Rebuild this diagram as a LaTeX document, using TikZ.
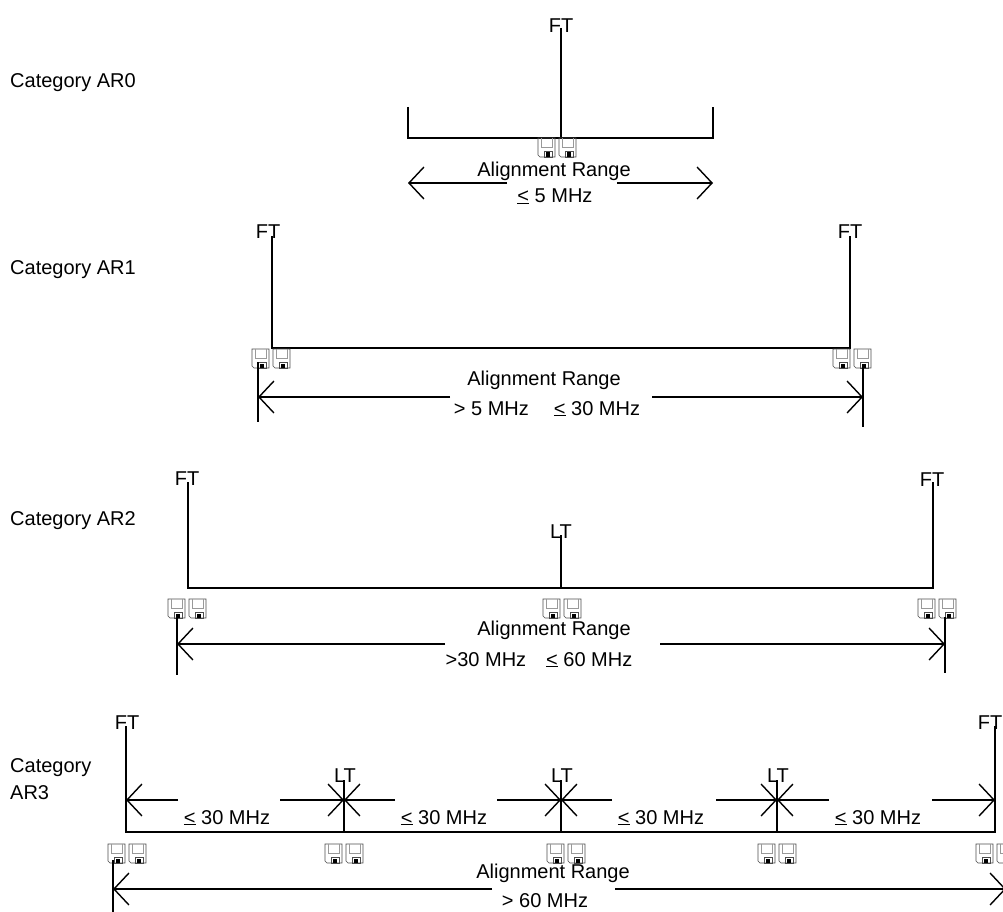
\documentclass[tikz,border=0pt]{standalone}
\usepackage{fontspec}
\setmainfont{Liberation Sans}
\usetikzlibrary{arrows.meta}
\newcommand\uleq{{\setbox0\hbox{<}\rlap{\rule[-1pt]{\wd0}{1.3pt}}\box0}}
\tikzset{
  floppy/.pic={
    \draw[line width=0.6pt, black!70] (0,0) -- (17,0) -- (17,19) -- (2,19) -- (0,17) -- cycle;
    \draw[line width=0.6pt, black!40] (3,0) -- (3,9) -- (14,9) -- (14,0);
    \draw[line width=0.6pt, black!70] (6,13) rectangle (14,19);
    \fill (8,14.5) rectangle (12,19);
  },
  floppypair/.pic={\pic at (0,0) {floppy}; \pic at (21,0) {floppy};}
}
\begin{document}
\begin{tikzpicture}[x=1pt,y=-1pt,
  font=\fontsize{20}{24}\selectfont,
  every node/.style={inner sep=0pt},
  lbl/.style={anchor=base},
  cat/.style={anchor=base west},
  ln/.style={line width=1.4pt},
  dimtip/.style={line width=1.4pt,-{Straight Barb[length=15pt,width=32pt]}}]
\useasboundingbox (0,0) rectangle (1003,912);

% ---------------- AR0
\node[cat] (c0) at (10,88) {Category AR0};
\node[lbl] (ft0) at (561,33) {FT};
\coordinate (ft0top) at (561,28);
\coordinate (t0l) at (408,107); \coordinate (h0l) at (408,138);
\coordinate (h0m) at (561,138);
\coordinate (h0r) at (713,138); \coordinate (t0r) at (713,107);
\draw[ln] (t0l) -- (h0l) -- (h0r) -- (t0r);
\draw[ln] (ft0top) -- (h0m);
\pic at (538,138) {floppypair};
\node[lbl] (ar0) at (554,177) {Alignment Range};
\node[lbl] (v0) at (555,203) {\uleq\ 5 MHz};
\coordinate (a0l) at (408,183); \coordinate (a0ls) at (507,183);
\coordinate (a0rs) at (617,183); \coordinate (a0r) at (713,183);
\draw[dimtip] (a0ls) -- (a0l);
\draw[dimtip] (a0rs) -- (a0r);

% ---------------- AR1
\node[cat] (c1) at (10,274) {Category AR1};
\node[lbl] (ft1a) at (268,238) {FT};
\node[lbl] (ft1b) at (850,238) {FT};
\coordinate (v1a) at (272,236); \coordinate (h1a) at (272,348);
\coordinate (h1b) at (850,348); \coordinate (v1b) at (850,236);
\draw[ln] (v1a) -- (h1a) -- (h1b) -- (v1b);
\pic at (252,349) {floppypair};
\pic at (833,349) {floppypair};
\coordinate (k1at) at (258,362); \coordinate (k1ab) at (258,422);
\coordinate (k1bt) at (863,366); \coordinate (k1bb) at (863,427);
\draw[ln] (k1at) -- (k1ab);
\draw[ln] (k1bt) -- (k1bb);
\coordinate (a1l) at (258,397); \coordinate (a1ls) at (450,397);
\coordinate (a1rs) at (652,397); \coordinate (a1r) at (863,397);
\draw[dimtip] (a1ls) -- (a1l);
\draw[dimtip] (a1rs) -- (a1r);
\node[lbl] (ar1) at (544,385) {Alignment Range};
\node[lbl] (v1) at (547,415) {> 5 MHz\hspace{25pt}\uleq\ 30 MHz};

% ---------------- AR2
\node[cat] (c2) at (10,525) {Category AR2};
\node[lbl] (ft2a) at (187,485) {FT};
\node[lbl] (ft2b) at (932,486) {FT};
\node[lbl] (lt2) at (561,538) {LT};
\coordinate (v2a) at (188,482); \coordinate (h2a) at (188,588);
\coordinate (h2b) at (933,588); \coordinate (v2b) at (933,482);
\coordinate (l2t) at (561,535); \coordinate (l2b) at (561,588);
\draw[ln] (v2a) -- (h2a) -- (h2b) -- (v2b);
\draw[ln] (l2t) -- (l2b);
\pic at (168,599) {floppypair};
\pic at (543,599) {floppypair};
\pic at (918,599) {floppypair};
\coordinate (k2at) at (177,617); \coordinate (k2ab) at (177,675);
\coordinate (k2bt) at (945,617); \coordinate (k2bb) at (945,673);
\draw[ln] (k2at) -- (k2ab);
\draw[ln] (k2bt) -- (k2bb);
\coordinate (a2l) at (177,644); \coordinate (a2ls) at (445,644);
\coordinate (a2rs) at (660,644); \coordinate (a2r) at (945,644);
\draw[dimtip] (a2ls) -- (a2l);
\draw[dimtip] (a2rs) -- (a2r);
\node[lbl] (ar2) at (554,635) {Alignment Range};
\node[lbl] (v2) at (539,666) {>30 MHz\hspace{20pt}\uleq\ 60 MHz};

% ---------------- AR3
\node[cat] (c3a) at (10,772) {Category};
\node[cat] (c3b) at (10,799) {AR3};
\node[lbl] (ft3a) at (127,729) {FT};
\node[lbl] (ft3b) at (990,729) {FT};
\coordinate (v3a) at (126,726); \coordinate (h3a) at (126,832);
\coordinate (h3b) at (995,832); \coordinate (v3b) at (995,726);
\draw[ln] (v3a) -- (h3a) -- (h3b) -- (v3b);
\foreach \x/\n in {344/1,561/2,777/3}{
  \node[lbl] (lt3\n) at (\x+1,782) {LT};
  \coordinate (l3t\n) at (\x,780);
  \coordinate (l3b\n) at (\x,832);
  \coordinate (x3\n) at (\x,800);
  \draw[ln] (l3t\n) -- (l3b\n);
}
\coordinate (x30) at (126,800); \coordinate (x34) at (995,800);
\coordinate (s1) at (178,800); \coordinate (s2) at (280,800);
\coordinate (s3) at (395,800); \coordinate (s4) at (497,800);
\coordinate (s5) at (612,800); \coordinate (s6) at (716,800);
\coordinate (s7) at (829,800); \coordinate (s8) at (932,800);
\draw[dimtip] (s1) -- (x30);
\draw[dimtip] (s2) -- (x31);
\draw[dimtip] (s3) -- (x31);
\draw[dimtip] (s4) -- (x32);
\draw[dimtip] (s5) -- (x32);
\draw[dimtip] (s6) -- (x33);
\draw[dimtip] (s7) -- (x33);
\draw[dimtip] (s8) -- (x34);
\node[lbl] (d31) at (227,824) {\uleq\ 30 MHz};
\node[lbl] (d32) at (444,824) {\uleq\ 30 MHz};
\node[lbl] (d33) at (661,824) {\uleq\ 30 MHz};
\node[lbl] (d34) at (878,824) {\uleq\ 30 MHz};
\pic at (108,844) {floppypair};
\pic at (325,844) {floppypair};
\pic at (547,844) {floppypair};
\pic at (758,844) {floppypair};
\pic at (976,844) {floppypair};
\coordinate (k3at) at (113,860); \coordinate (k3ab) at (113,915);
\coordinate (k3bt) at (1006,860); \coordinate (k3bb) at (1006,915);
\draw[ln] (k3at) -- (k3ab);
\draw[ln] (k3bt) -- (k3bb);
\coordinate (a3l) at (113,889); \coordinate (a3ls) at (492,889);
\coordinate (a3rs) at (615,889); \coordinate (a3r) at (1006,889);
\draw[dimtip] (a3ls) -- (a3l);
\draw[dimtip] (a3rs) -- (a3r);
\node[lbl] (ar3) at (553,878) {Alignment Range};
\node[lbl] (v3) at (545,907) {> 60 MHz};
\end{tikzpicture}
\end{document}
